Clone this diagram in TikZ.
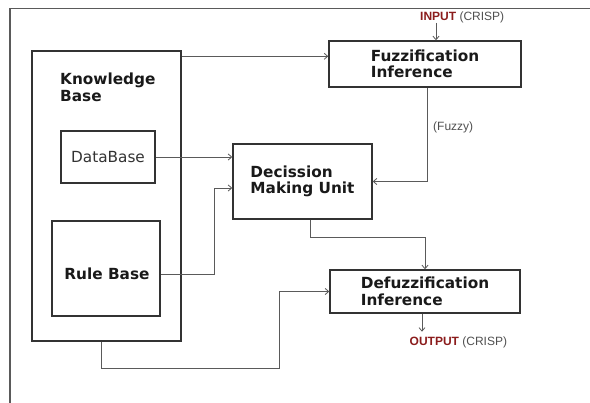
\documentclass[tikz,border=0pt]{standalone}
\usepackage{fontspec}
\setmainfont{DejaVu Sans}
\newfontfamily\arialf{Liberation Sans}
\usetikzlibrary{arrows.meta,calc}
\definecolor{linegray}{HTML}{5A5A5A}
\definecolor{boxgray}{HTML}{333333}
\definecolor{darkred}{HTML}{8B1C1C}
\definecolor{notegray}{HTML}{505050}
\begin{document}
\begin{tikzpicture}[x=1pt,y=-1pt,
  box/.style={draw=boxgray, line width=1.4pt, inner sep=0pt, align=left,
    text=black!90, font=\bfseries\fontsize{15.3}{16.5}\selectfont},
  plainbox/.style={box, font=\fontsize{15.3}{16.5}\selectfont, text=black!80},
  title/.style={inner sep=0pt, align=left, text=black!90,
    font=\bfseries\fontsize{15.3}{16.5}\selectfont},
  arr/.style={draw=linegray, line width=0.8pt,
    -{Straight Barb[length=3.5pt,width=6pt]}},
  note/.style={font=\arialf\fontsize{12}{14}\selectfont, text=notegray, inner sep=0pt}]
\useasboundingbox (0,0) rectangle (590,403);
\fill[white] (0,0) rectangle (590,403);

% outer frame (top and left edges only)
\draw[draw=linegray, line width=1.3pt] (590,8.5) -- (10,8.5) -- (10,403);

% knowledge base and its parts
\node[box, minimum width=149pt, minimum height=290pt] (kb) at (106.5,196) {};
\node[title, anchor=north west] (kblbl) at (60,73) {Knowledge\\Base};
\node[plainbox, minimum width=94pt, minimum height=52pt] (db) at (108,157) {DataBase};
\node[box, minimum width=108pt, minimum height=95pt] (rb) at (106,268.5) {};
\node[title] (rblbl) at (107,274) {Rule Base};

% processing blocks
\node[box, minimum width=192pt, minimum height=46pt] (fuzz) at (425,64) {Fuzzification\\Inference};
\node[box, minimum width=139pt, minimum height=75pt] (dmu) at (302.5,181.5) {Decission\\Making Unit};
\node[box, minimum width=190pt, minimum height=43pt] (dfz) at (425,291.5) {Defuzzification\\Inference};

% input / output labels
\node[note, anchor=west] (inlbl) at (420,17) {{\bfseries\color{darkred}INPUT} (CRISP)};
\node[note, anchor=west] (outlbl) at (409.5,342) {{\bfseries\color{darkred}OUTPUT} (CRISP)};
\node[note, anchor=west] (fzlbl) at (433,127) {(Fuzzy)};

% connectors
\coordinate (inpt) at ([xshift=11pt]fuzz.north);
\draw[arr] (inpt |- 0,23) -- (inpt);
\draw[arr] ([yshift=-6pt]kb.north east) -- ([yshift=-6pt]kb.north east -| fuzz.west);
\draw[arr] ([xshift=2pt]fuzz.south) |- (dmu.east);
\draw[arr] (db.east) -- (db.east -| dmu.west);
\draw[arr] ([yshift=-5.5pt]rb.east) -- ++(54,0) |- ([yshift=-6.5pt]dmu.west);
\draw[arr] ([xshift=7.5pt]dmu.south) -- ++(0,18) -| (dfz.north);
\draw[arr] ([xshift=-5pt]kb.south) -- ++(0,27) -| ([xshift=-49.5pt]dfz.west) -- (dfz.west);
\coordinate (outpt) at ([xshift=-3pt]dfz.south);
\draw[arr] (outpt) -- ++(0,18);
\end{tikzpicture}
\end{document}
